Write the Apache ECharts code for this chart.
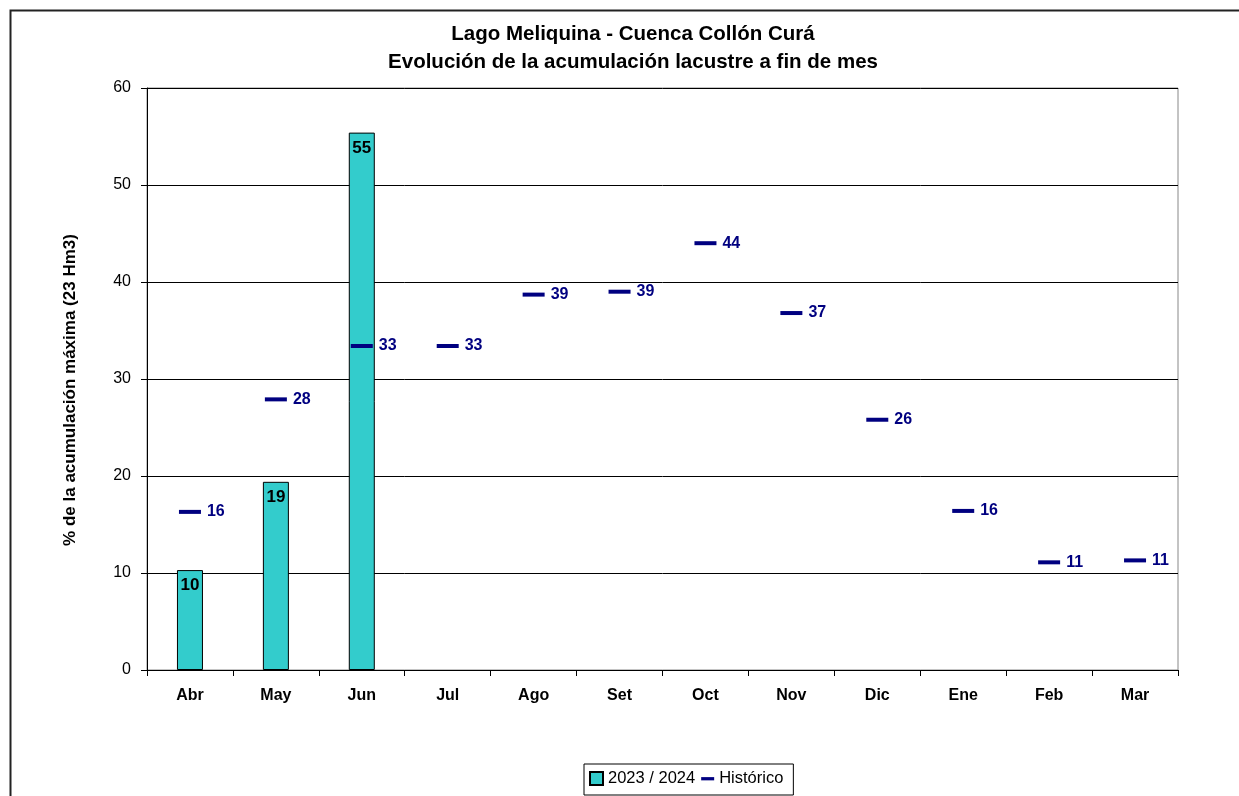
<!DOCTYPE html>
<html>
<head>
<meta charset="utf-8">
<script src="https://cdn.jsdelivr.net/npm/echarts@6/dist/echarts.min.js"></script>
<style>
html,body{margin:0;padding:0;background:#fff;}
#c{width:1239px;height:796px;}
</style>
</head>
<body>
<div id="c"></div>
<script>
const months = ['Abr','May','Jun','Jul','Ago','Set','Oct','Nov','Dic','Ene','Feb','Mar'];
const actual = [10.3, 19.4, 55.4, null, null, null, null, null, null, null, null, null];
const historico = [16.3, 27.9, 33.4, 33.4, 38.7, 39.0, 44.0, 36.8, 25.8, 16.4, 11.1, 11.3];
const yTicks = [0, 10, 20, 30, 40, 50, 60];

const FONT = "'Liberation Sans', Arial, sans-serif";
const chart = echarts.init(document.getElementById('c'), null, {renderer: 'canvas'});
chart.setOption({
  backgroundColor: '#fff',
  animation: false,
  textStyle: {fontFamily: FONT, color: '#000'},
  graphic: [{
    type: 'rect', left: 8, top: 8, shape: {width: 1260, height: 820},
    style: {fill: 'none', stroke: '#222', lineWidth: 2}, silent: true, z: -10
  }],
  title: {
    text: 'Lago Meliquina - Cuenca Collón Curá\nEvolución de la acumulación lacustre a fin de mes',
    left: 628, top: 15, textAlign: 'center',
    textStyle: {fontFamily: FONT, fontSize: 20.5, fontWeight: 'bold', color: '#000', lineHeight: 28}
  },
  legend: {
    top: 764, left: 584,
    borderColor: '#000', borderWidth: 1, borderRadius: 0,
    padding: [6, 10, 8, 5],
    itemGap: 6, itemWidth: 13, itemHeight: 13,
    textStyle: {fontFamily: FONT, fontSize: 16.5, color: '#000'},
    data: [
      {name: '2023 / 2024', icon: 'rect'},
      {name: 'Histórico', icon: 'path://M0,0 M0,5 L14,5 L14,8.5 L0,8.5 Z M14,13'}
    ]
  },
  grid: {left: 147, right: 61, top: 88, bottom: 126, show: true, borderColor: '#888', borderWidth: 1},
  xAxis: {
    type: 'category', data: months, boundaryGap: true,
    axisLine: {lineStyle: {color: '#000', width: 1}},
    axisTick: {show: true, length: 6, inside: false, lineStyle: {color: '#000'}},
    axisLabel: {fontFamily: FONT, fontSize: 16, fontWeight: 'bold', color: '#000', margin: 18}
  },
  yAxis: {
    type: 'value', min: yTicks[0], max: yTicks[yTicks.length - 1], interval: 10,
    name: '% de la acumulación máxima (23 Hm3)',
    nameLocation: 'middle', nameGap: 68,
    nameTextStyle: {fontFamily: FONT, fontSize: 17, fontWeight: 'bold', color: '#000', padding: [0, 0, 0, -22]},
    axisLine: {show: true, lineStyle: {color: '#000', width: 1}},
    axisTick: {show: true, length: 6, lineStyle: {color: '#000'}},
    axisLabel: {fontFamily: FONT, fontSize: 16, color: '#000', margin: 16},
    splitLine: {show: true, lineStyle: {color: '#000', width: 1}}
  },
  series: [
    {
      name: '2023 / 2024', type: 'bar', data: actual, barWidth: 26,
      itemStyle: {color: '#33CCCC', borderColor: '#000', borderWidth: 1},
      label: {
        show: true, position: 'insideTop', distance: 7,
        fontFamily: FONT, fontSize: 17, fontWeight: 'bold', color: '#000',
        formatter: p => p.value == null ? '' : String(Math.round(p.value))
      },
      z: 2
    },
    {
      name: 'Histórico', type: 'scatter', data: historico,
      symbol: 'rect', symbolSize: [22, 4],
      itemStyle: {color: '#000080', opacity: 1},
      label: {
        show: true, position: 'right', distance: 6,
        fontFamily: FONT, fontSize: 16, fontWeight: 'bold', color: '#000080',
        formatter: p => String(Math.round(p.value))
      },
      z: 3
    }
  ]
});
</script>
</body>
</html>
